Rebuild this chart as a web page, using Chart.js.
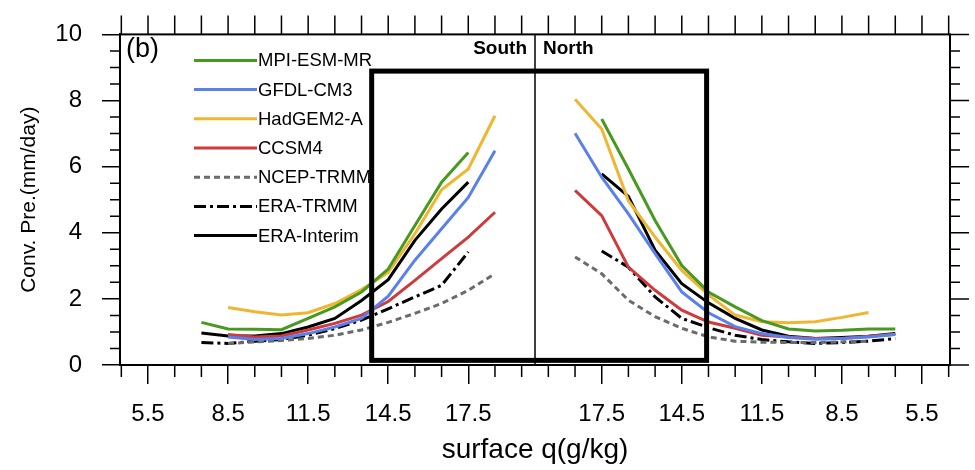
<!DOCTYPE html>
<html>
<head>
<meta charset="utf-8">
<script src="https://cdn.jsdelivr.net/npm/chart.js@4.4.1/dist/chart.umd.min.js"></script>
<style>
  html, body { margin: 0; padding: 0; background: #fff; }
  #wrap { width: 975px; height: 470px; }
</style>
</head>
<body>
<div id="wrap"><canvas id="grafico" width="975" height="470"></canvas></div>
<script>
// bins of surface specific humidity (g/kg), same for both hemispheres
const qBins = [6.5, 7.5, 8.5, 9.5, 10.5, 11.5, 12.5, 13.5, 14.5, 15.5, 16.5, 17.5, 18.5];
const xTicks = [5.5, 8.5, 11.5, 14.5, 17.5];
const yTicks = [0, 2, 4, 6, 8, 10];

const modelos = ['MPI-ESM-MR', 'GFDL-CM3', 'HadGEM2-A', 'CCSM4', 'NCEP-TRMM', 'ERA-TRMM', 'ERA-Interim'];

// South branch (index follows qBins)
const mpiSul    = [null, 1.29, 1.09, 1.08, 1.07, 1.41, 1.76, 2.21, 2.90, 4.22, 5.53, 6.43, null];
const gfdlSul   = [null, null, 0.85, 0.77, 0.80, 0.95, 1.15, 1.41, 2.08, 3.17, 4.12, 5.07, 6.48];
const hadSul    = [null, null, 1.74, 1.61, 1.51, 1.58, 1.86, 2.28, 2.80, 3.97, 5.30, 5.93, 7.54];
const ccsmSul   = [null, null, 0.92, 0.85, 0.88, 1.06, 1.26, 1.51, 1.92, 2.56, 3.22, 3.87, 4.62];
const ncepSul   = [null, null, 0.65, 0.70, 0.74, 0.80, 0.90, 1.06, 1.29, 1.56, 1.86, 2.26, 2.76];
const eraTrSul  = [null, 0.68, 0.65, 0.72, 0.77, 0.90, 1.10, 1.36, 1.70, 2.06, 2.41, 3.42, null];
const eraIntSul = [null, 0.97, 0.88, 0.88, 0.95, 1.15, 1.41, 1.95, 2.58, 3.77, 4.72, 5.53, null];

// North branch
const mpiNorte    = [1.09, 1.09, 1.05, 1.03, 1.09, 1.34, 1.76, 2.21, 3.01, 4.37, 5.93, 7.44, null];
const gfdlNorte   = [0.92, 0.85, 0.80, 0.78, 0.83, 0.95, 1.16, 1.58, 2.21, 3.37, 4.57, 5.68, 7.01];
const hadNorte    = [null, 1.59, 1.44, 1.31, 1.28, 1.31, 1.51, 2.12, 2.86, 3.87, 4.97, 7.14, 8.04];
const ccsmNorte   = [0.93, 0.87, 0.80, 0.80, 0.85, 0.90, 1.11, 1.30, 1.66, 2.26, 2.96, 4.52, 5.28];
const ncepNorte   = [null, 0.72, 0.70, 0.68, 0.68, 0.69, 0.72, 0.85, 1.11, 1.46, 1.96, 2.76, 3.27];
const eraTrNorte  = [0.80, 0.72, 0.68, 0.65, 0.70, 0.77, 0.90, 1.13, 1.41, 2.06, 2.96, 3.45, null];
const eraIntNorte = [0.95, 0.87, 0.83, 0.80, 0.87, 1.06, 1.41, 1.88, 2.46, 3.47, 5.10, 5.78, null];

// highlighted box (q on each side, precipitation range)
const caixa = { qSul: 13.88, qNorte: 13.57, yMin: 0.14, yMax: 8.89 };

const centro = 20;   // axis position where South meets North
const fonte = '"Liberation Sans", Arial, Helvetica, sans-serif';

const montaPontos = (sul, norte) => {
  const pts = [];
  qBins.forEach((q, i) => { if (sul[i] !== null) pts.push({x: q, y: sul[i]}); });
  pts.push({x: centro, y: null});
  for (let i = qBins.length - 1; i >= 0; i--) {
    if (norte[i] !== null) pts.push({x: 2 * centro - qBins[i], y: norte[i]});
  }
  return pts;
};

const series = [
  [mpiSul, mpiNorte, '#479a1f', []],
  [gfdlSul, gfdlNorte, '#5a80ec', []],
  [hadSul, hadNorte, '#f0b632', []],
  [ccsmSul, ccsmNorte, '#cf3b3b', []],
  [ncepSul, ncepNorte, '#6b6b6b', [6, 4]],
  [eraTrSul, eraTrNorte, '#000000', [12, 4, 3, 4]],
  [eraIntSul, eraIntNorte, '#000000', []]
];

const datasets = series.map((s, i) => ({
  label: modelos[i],
  data: montaPontos(s[0], s[1]),
  borderColor: s[2],
  borderDash: s[3],
  borderWidth: 3,
  pointRadius: 0,
  tension: 0,
  spanGaps: false
}));

const posMaiores = xTicks.concat(xTicks.map(v => 2 * centro - v)).sort((a, b) => a - b);

const moldura = {
  id: 'moldura',
  afterDraw(chart) {
    const {ctx, chartArea: a, scales: {x, y}} = chart;
    ctx.save();
    ctx.strokeStyle = '#000';
    ctx.setLineDash([]);

    // ticks
    ctx.lineWidth = 1.5;
    ctx.beginPath();
    for (let v = 4.5; v <= 35.5; v += 1) {
      const px = x.getPixelForValue(v);
      ctx.moveTo(px, a.top); ctx.lineTo(px, a.top - 19);
      if (!posMaiores.includes(v)) { ctx.moveTo(px, a.bottom); ctx.lineTo(px, a.bottom + 12); }
    }
    for (let v = 0; v <= 10; v += 0.5) {
      const py = y.getPixelForValue(v);
      const maior = yTicks.includes(v);
      if (!maior) { ctx.moveTo(a.left, py); ctx.lineTo(a.left - 10, py); }
      ctx.moveTo(a.right, py); ctx.lineTo(a.right + (maior ? 19 : 10), py);
    }
    ctx.stroke();

    // frame
    ctx.lineWidth = 2;
    ctx.strokeRect(a.left, a.top, a.right - a.left, a.bottom - a.top);

    // South / North divider
    const cx = x.getPixelForValue(centro);
    ctx.lineWidth = 1.5;
    ctx.beginPath();
    ctx.moveTo(cx, a.top); ctx.lineTo(cx, a.bottom);
    ctx.stroke();

    // box
    const bx0 = x.getPixelForValue(caixa.qSul);
    const bx1 = x.getPixelForValue(2 * centro - caixa.qNorte);
    const by0 = y.getPixelForValue(caixa.yMax);
    const by1 = y.getPixelForValue(caixa.yMin);
    ctx.lineWidth = 5;
    ctx.strokeRect(bx0, by0, bx1 - bx0, by1 - by0);

    // texts
    ctx.fillStyle = '#000';
    ctx.textBaseline = 'alphabetic';
    ctx.font = '27px ' + fonte;
    ctx.textAlign = 'left';
    ctx.fillText('(b)', a.left + 6, a.top + 23);
    ctx.font = 'bold 19px ' + fonte;
    ctx.textAlign = 'right';
    ctx.fillText('South', cx - 8, a.top + 20);
    ctx.textAlign = 'left';
    ctx.fillText('North', cx + 8, a.top + 20);

    // legend
    ctx.font = '18.5px ' + fonte;
    ctx.textBaseline = 'middle';
    chart.data.datasets.forEach((ds, i) => {
      const ly = a.top + 26 + i * 29.2;
      ctx.strokeStyle = ds.borderColor;
      ctx.lineWidth = 3;
      ctx.setLineDash(ds.borderDash || []);
      ctx.beginPath();
      ctx.moveTo(a.left + 74, ly); ctx.lineTo(a.left + 137, ly);
      ctx.stroke();
      ctx.fillText(ds.label, a.left + 138, ly + 1);
    });
    ctx.restore();
  }
};

new Chart(document.getElementById('grafico'), {
  type: 'line',
  data: { datasets },
  options: {
    responsive: false,
    animation: false,
    layout: { padding: { left: 0, right: 25, top: 33, bottom: 0 } },
    plugins: { legend: { display: false }, tooltip: { enabled: false } },
    scales: {
      x: {
        type: 'linear',
        min: 4.45,
        max: 35.55,
        afterBuildTicks: s => { s.ticks = posMaiores.map(v => ({value: v})); },
        afterFit: s => { s.height = 105; },
        ticks: {
          autoSkip: false,
          maxRotation: 0,
          padding: 16,
          color: '#000',
          font: { family: fonte, size: 24 },
          callback: v => (v < centro ? v : 2 * centro - v).toFixed(1)
        },
        grid: { drawOnChartArea: false, tickLength: 19, color: '#000', lineWidth: 1.5 },
        border: { color: '#000', width: 2 },
        title: {
          display: true,
          text: 'surface q(g/kg)',
          color: '#000',
          font: { family: fonte, size: 28 },
          padding: { top: 0, bottom: 3 }
        }
      },
      y: {
        min: 0,
        max: 10,
        afterBuildTicks: s => { s.ticks = yTicks.map(v => ({value: v})); },
        afterFit: s => { s.width = 120; },
        ticks: {
          padding: 20,
          color: '#000',
          font: { family: fonte, size: 24 }
        },
        grid: { drawOnChartArea: false, tickLength: 18, color: '#000', lineWidth: 1.5 },
        border: { color: '#000', width: 2 },
        title: {
          display: true,
          text: 'Conv. Pre.(mm/day)',
          color: '#000',
          font: { family: fonte, size: 21 },
          padding: { top: 17, bottom: 0 }
        }
      }
    }
  },
  plugins: [moldura]
});
</script>
</body>
</html>
